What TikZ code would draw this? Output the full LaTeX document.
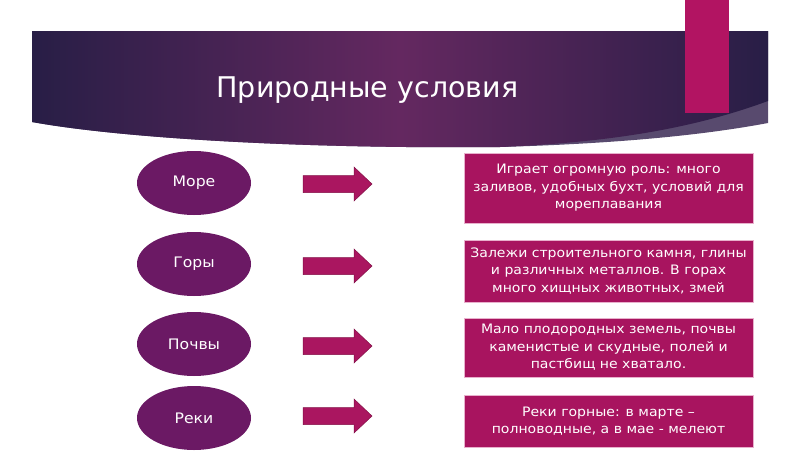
\documentclass[tikz,border=0pt]{standalone}
\usepackage{fontspec}
\setmainfont{DejaVu Sans}
\newfontfamily\boxfont[FakeStretch=1.08]{DejaVu Sans}
\usetikzlibrary{shapes.geometric}
\definecolor{navy}{RGB}{40,30,70}
\definecolor{plum}{RGB}{100,40,96}
\definecolor{wedge}{RGB}{88,74,110}
\definecolor{magbar}{RGB}{178,20,98}
\definecolor{ellfill}{RGB}{107,25,100}
\definecolor{boxfill}{RGB}{168,20,95}
\definecolor{boxedge}{RGB}{232,176,204}
\definecolor{arrfill}{RGB}{170,22,96}
\definecolor{arredge}{RGB}{130,15,70}
\tikzset{
  topic/.style={ellipse, fill=ellfill, minimum width=114pt, minimum height=64pt, inner sep=0pt,
    text=white, font=\boxfont\fontsize{14.5}{16}\selectfont},
  infobox/.style={rectangle, fill=boxfill, draw=boxedge, line width=1pt, minimum width=289pt,
    inner sep=0pt, text=white, align=center, font=\boxfont\fontsize{13}{17.5}\selectfont},
  fatarrow/.style={fill=arrfill, draw=arredge, line width=0.5pt},
}
\begin{document}
\begin{tikzpicture}[x=1pt,y=-1pt]
\useasboundingbox (0,0) rectangle (800,450);
\fill[white] (0,0) rectangle (800,450);
% banner
\fill[wedge] (32,31) -- (768,31) -- (768,123) .. controls (720,132) and (640,143) .. (500,147)
  .. controls (300,149) and (120,138) .. (32,122) -- cycle;
\shade[left color=navy, right color=navy, middle color=plum]
  (32,31) -- (768,31) -- (768,101) .. controls (700,126) and (620,142) .. (500,147)
  .. controls (300,149) and (120,138) .. (32,122) -- cycle;
\fill[magbar] (685,0) rectangle (729,113);
\node[text=white, font=\fontsize{28.5}{30}\selectfont, anchor=base west] (title) at (213,97) {Природные условия};
% ellipses
\node[topic] (sea) at (194,183) {Море};
\node[topic] (mnt) at (194,264) {Горы};
\node[topic] (soil) at (194,344) {Почвы};
\node[topic] (riv) at (194,418) {Реки};
% arrows
\foreach \n/\y in {a1/184,a2/266,a3/346,a4/416}{
  \coordinate (\n) at (303,\y);
  \draw[fatarrow] (\n) ++(0,-8.5) -- ++(51,0) -- ++(0,-8.5) -- ++(18,17) -- ++(-18,17) -- ++(0,-8.5) -- ++(-51,0) -- cycle;
}
% boxes
\node[infobox, minimum height=70pt] (b1) at (608.5,188) {Играет огромную роль: много\\заливов, удобных бухт, условий для\\мореплавания};
\node[infobox, minimum height=62pt] (b2) at (608.5,271) {Залежи строительного камня, глины\\и различных металлов. В горах\\много хищных животных, змей};
\node[infobox, minimum height=59pt] (b3) at (608.5,347.5) {Мало плодородных земель, почвы\\каменистые и скудные, полей и\\пастбищ не хватало.};
\node[infobox, minimum height=52pt] (b4) at (608.5,421) {Реки горные: в марте –\\полноводные, а в мае - мелеют};
\end{tikzpicture}
\end{document}
